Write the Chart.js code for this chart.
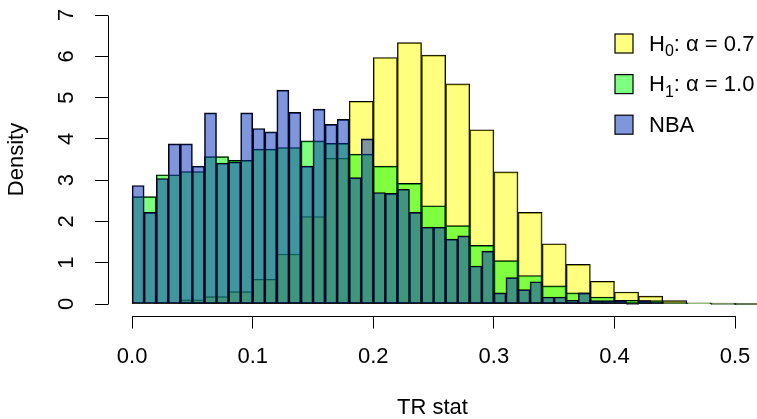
<!DOCTYPE html>
<html>
<head>
<meta charset="utf-8">
<script src="https://cdn.jsdelivr.net/npm/chart.js@4.4.1/dist/chart.umd.min.js"></script>
<style>
  html,body{margin:0;padding:0;background:#fff;}
  #wrap{width:757px;height:419px;}
</style>
</head>
<body>
<div id="wrap"><canvas id="chart" width="757" height="419"></canvas></div>
<script>
// larguras dos bins: H0/H1 em 0.02, NBA em 0.01
const binWide = 0.02;
const binNarrow = 0.01;

const h0Density = [0.02,0.04,0.10,0.18,0.30,0.60,1.21,2.12,3.53,4.91,5.97,6.33,6.03,5.33,4.22,3.20,2.22,1.46,0.96,0.55,0.29,0.19,0.08,0.03,0.01,0];
const h1Density = [2.60,3.13,3.21,3.57,3.48,3.75,3.79,3.95,3.89,3.63,3.34,2.92,2.38,1.90,1.42,1.05,0.69,0.44,0.27,0.17,0.09,0.08,0.03,0.01,0,0];
const nbaDensity = [2.87,2.22,3.04,3.88,3.88,3.34,4.63,3.41,3.44,4.63,4.25,4.17,5.18,4.64,3.34,4.72,4.35,4.47,3.06,4.00,
                    2.70,2.68,2.78,2.22,1.86,1.86,1.57,1.65,0.92,1.28,0.27,0.64,0.35,0.54,0.17,0.17,0.09,0.27,0.08,0.08,
                    0.08,0,0.08,0.04];

const xTicks = [0,0.1,0.2,0.3,0.4,0.5];
const yTicks = [0,1,2,3,4,5,6,7];
const seriesLabels = ['H\u2080: \u03b1 = 0.7','H\u2081: \u03b1 = 1.0','NBA'];
const seriesColors = ['rgba(255,255,0,0.5)','rgba(0,255,0,0.5)','rgba(0,45,185,0.5)'];

const FONT = "'Liberation Sans', Arial, sans-serif";
const FSIZE = 22;
Chart.defaults.font.family = FONT;
Chart.defaults.font.size = FSIZE;
Chart.defaults.color = '#000';

function toPoints(vals, w){
  return vals.map((v,i) => ({x:(i+0.5)*w, y:v}));
}

// eixos no estilo R: linha só entre o primeiro e o último tick
const rAxes = {
  id:'rAxes',
  afterDraw(chart){
    const {ctx, chartArea, scales:{x,y}} = chart;
    ctx.save();
    ctx.strokeStyle = '#000';
    ctx.lineWidth = 1;
    ctx.beginPath();
    const by = Math.round(chartArea.bottom) + 0.5;
    ctx.moveTo(Math.round(x.getPixelForValue(xTicks[0])) + 0.5, by);
    ctx.lineTo(Math.round(x.getPixelForValue(xTicks[xTicks.length-1])) + 0.5, by);
    const lx = Math.round(chartArea.left) + 0.5;
    ctx.moveTo(lx, Math.round(y.getPixelForValue(yTicks[0])) + 0.5);
    ctx.lineTo(lx, Math.round(y.getPixelForValue(yTicks[yTicks.length-1])) + 0.5);
    ctx.stroke();
    ctx.restore();
  }
};

// legenda no canto superior direito (como legend("topright") do R)
const rLegend = {
  id:'rLegend',
  afterDraw(chart){
    const ctx = chart.ctx;
    const boxX = 615, boxW = 18, boxH = 19, textX = 649;
    const top = 43.5, step = 40.6;
    ctx.save();
    chart.data.datasets.forEach((ds,i) => {
      const cy = top + i*step;
      ctx.fillStyle = '#fff';
      ctx.fillRect(boxX, cy - boxH/2, boxW, boxH);
      ctx.fillStyle = ds.backgroundColor;
      ctx.fillRect(boxX, cy - boxH/2, boxW, boxH);
      ctx.strokeStyle = '#000';
      ctx.lineWidth = 1.2;
      ctx.strokeRect(boxX, cy - boxH/2, boxW, boxH);
      // texto com subscrito
      ctx.fillStyle = '#000';
      ctx.textBaseline = 'middle';
      ctx.textAlign = 'left';
      let tx = textX;
      for(const ch of ds.label){
        const sub = '\u2080\u2081'.indexOf(ch);
        if(sub >= 0){
          ctx.font = '16px ' + FONT;
          ctx.fillText(String(sub), tx, cy + 8);
          tx += ctx.measureText(String(sub)).width;
        } else {
          ctx.font = FSIZE + 'px ' + FONT;
          ctx.fillText(ch, tx, cy + 1);
          tx += ctx.measureText(ch).width;
        }
      }
    });
    ctx.restore();
  }
};

const xMin = -0.02, xMax = 0.5182;

new Chart(document.getElementById('chart'), {
  type:'bar',
  data:{
    datasets:[
      {label:seriesLabels[0], data:toPoints(h0Density, binWide), xAxisID:'x', backgroundColor:seriesColors[0], order:3},
      {label:seriesLabels[1], data:toPoints(h1Density, binWide), xAxisID:'x', backgroundColor:seriesColors[1], order:2},
      {label:seriesLabels[2], data:toPoints(nbaDensity, binNarrow), xAxisID:'x2', backgroundColor:seriesColors[2], order:1}
    ]
  },
  options:{
    responsive:false,
    animation:false,
    layout:{padding:{top:3.44, right:0, bottom:0, left:0}},
    datasets:{bar:{grouped:false, barPercentage:1, categoryPercentage:1, borderWidth:1, borderColor:'#000', borderSkipped:false, minBarLength:1}},
    plugins:{legend:{display:false}, tooltip:{enabled:false}},
    scales:{
      x:{
        type:'linear', position:'bottom', min:xMin, max:xMax, offset:false,
        afterBuildTicks: s => { s.ticks = xTicks.map(v => ({value:v})); },
        afterFit: s => { s.height = 419 - 315.56; s.paddingLeft = 0; s.paddingRight = 0; },
        grid:{offset:false, drawOnChartArea:false, drawTicks:true, tickLength:13, color:'#000', lineWidth:1},
        border:{display:false},
        ticks:{padding:14.8, maxRotation:0, autoSkip:false, callback: v => Number(v).toFixed(1)},
        title:{display:true, text:'TR stat', font:{size:FSIZE, lineHeight:1}, padding:{top:0, bottom:0}}
      },
      x2:{
        type:'linear', position:'bottom', min:xMin, max:xMax, offset:false, display:false,
        ticks:{display:false}, grid:{offset:false, display:false}, border:{display:false}
      },
      y:{
        type:'linear', min:-0.28, max:7.28,
        afterBuildTicks: s => { s.ticks = yTicks.map(v => ({value:v})); },
        afterFit: s => { s.width = 108; s.paddingTop = 0; s.paddingBottom = 0; },
        grid:{drawOnChartArea:false, drawTicks:true, tickLength:13, color:'#000', lineWidth:1},
        border:{display:false},
        ticks:{padding:21.9, minRotation:90, maxRotation:90, crossAlign:'center', callback: v => String(v)},
        title:{display:true, text:'Density', font:{size:FSIZE, lineHeight:1}, padding:{top:6, bottom:0}}
      }
    }
  },
  plugins:[rAxes, rLegend]
});
</script>
</body>
</html>
